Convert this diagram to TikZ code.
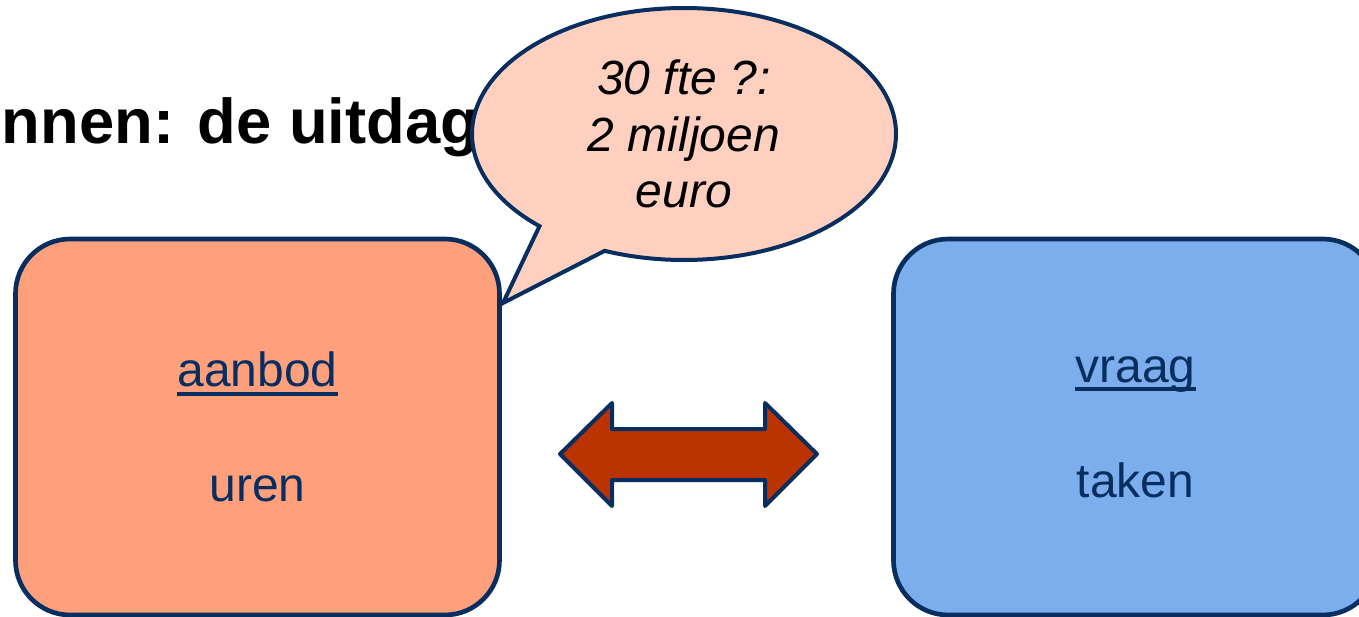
\documentclass[tikz,border=0pt]{standalone}
\usepackage{fontspec}
\setmainfont{Liberation Sans}
\usetikzlibrary{shapes.callouts}

\definecolor{navy}{RGB}{8,46,96}
\definecolor{offerfill}{RGB}{255,160,124}
\definecolor{askfill}{RGB}{124,174,238}
\definecolor{bubblefill}{RGB}{255,208,192}
\definecolor{swapfill}{RGB}{187,51,0}

\newlength\ulwd
\newcommand{\ulword}[1]{\settowidth{\ulwd}{#1}\rlap{\rule[-6.75pt]{\ulwd}{3pt}}#1}

\begin{document}
\begin{tikzpicture}[
  x=0.75pt, y=-0.75pt,
  round_box/.style={rectangle, rounded corners=41pt, draw=navy, line width=3.5pt, minimum width=363pt, minimum height=282pt, inner sep=0pt, align=center, text=navy, font=\fontsize{36}{43}\selectfont},
  offer_box/.style={round_box, fill=offerfill},
  ask_box/.style={round_box, fill=askfill},
  talk_bubble/.style={ellipse callout, draw=navy, line width=3pt, fill=bubblefill, minimum width=318pt, minimum height=189pt, inner sep=0pt, callout pointer arc=21, align=center, font=\fontsize{36}{42.4}\selectfont\itshape},
  swap_arrow/.style={draw=navy, line width=3pt, line join=round, fill=swapfill},
]
\useasboundingbox (0,0) rectangle (1359,617);
\clip (0,0) rectangle (1359,617);
\draw (-3,143) node (T) [anchor=base west, font=\fontsize{47.5}{57}\selectfont\bfseries] {nnen: de uitdag};
\draw (257.5,427) node (aanbod) [offer_box] {\ulword{aanbod}\\[43pt] uren};
\draw (1135.5,427) node (vraag) [ask_box] {\ulword{vraag}\\[43pt] taken};
\coordinate (tip) at (503,303);
\draw (684,134) node (bubble) [talk_bubble, callout absolute pointer={(tip)}] {30 fte ?:\\ 2 miljoen\\ euro};
\draw [swap_arrow] (560,454) -- (612,403) -- (612,429) -- (765,429) -- (765,403) -- (817,454)
  -- (765,506) -- (765,480) -- (612,480) -- (612,506) -- cycle;
\end{tikzpicture}
\end{document}
